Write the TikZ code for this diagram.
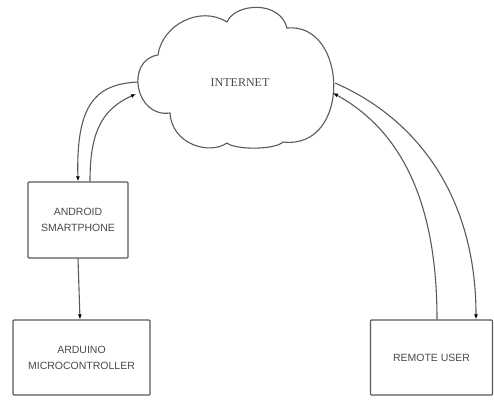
\documentclass[tikz,border=0pt]{standalone}
\usepackage{fontspec}
\setmainfont{Liberation Serif}
\newfontfamily\boxfont{Liberation Sans}
\usetikzlibrary{arrows.meta}
\definecolor{linegray}{HTML}{5A5A5A}
\definecolor{textgray}{HTML}{4A4A4A}
\tikzset{
  boxnode/.style={draw=linegray, line width=1.3pt, rounded corners=1pt, fill=white,
    align=center, font=\boxfont\fontsize{10.5}{16}\selectfont, text=textgray, inner sep=0pt},
  link/.style={draw=linegray, line width=1.1pt,
    -{Latex[length=5pt,width=4pt,color=black]}},
}
\begin{document}
\begin{tikzpicture}[x=1pt,y=-1pt]
\useasboundingbox (0,0) rectangle (494,399);
% cloud
\draw[linegray, line width=1.1pt, fill=white]
  (158,55) .. controls (162,25) and (200,5) .. (227,22)
  .. controls (235,3) and (280,0) .. (287,28)
  .. controls (348,22) and (352,150) .. (283,142)
  .. controls (275,150) and (235,150) .. (227,143)
  .. controls (210,155) and (172,145) .. (170,113)
  .. controls (135,118) and (125,60) .. cycle;
\node[font=\fontsize{12}{14}\selectfont, text=textgray] (internet) at (240,83) {INTERNET};
\coordinate (cloudLA) at (138,82);
\coordinate (cloudLB) at (136,94);
\coordinate (cloudRA) at (335,83);
\coordinate (cloudRB) at (333,93);
% boxes
\node[boxnode, minimum width=100pt, minimum height=76pt] (android) at (78,220)
  {ANDROID\\SMARTPHONE};
\node[boxnode, minimum width=137pt, minimum height=75pt] (arduino) at (81.5,357.5)
  {ARDUINO\\MICROCONTROLLER};
\node[boxnode, minimum width=122pt, minimum height=75pt] (remote) at (431.5,357.5)
  {\raisebox{-7pt}{REMOTE USER}};
% connectors
\draw[link] (android.south) -- ([xshift=-1.5pt]arduino.north);
\draw[link] (cloudLA) .. controls (95,84) and (76,105) .. (android.north);
\draw[link] ([xshift=12pt]android.north) .. controls (90,135) and (100,110) .. (cloudLB);
\draw[link] (cloudRA) .. controls (420,120) and (476,200) .. ([xshift=44.5pt]remote.north);
\draw[link] ([xshift=5.5pt]remote.north) .. controls (437,200) and (400,130) .. (cloudRB);
\end{tikzpicture}
\end{document}
